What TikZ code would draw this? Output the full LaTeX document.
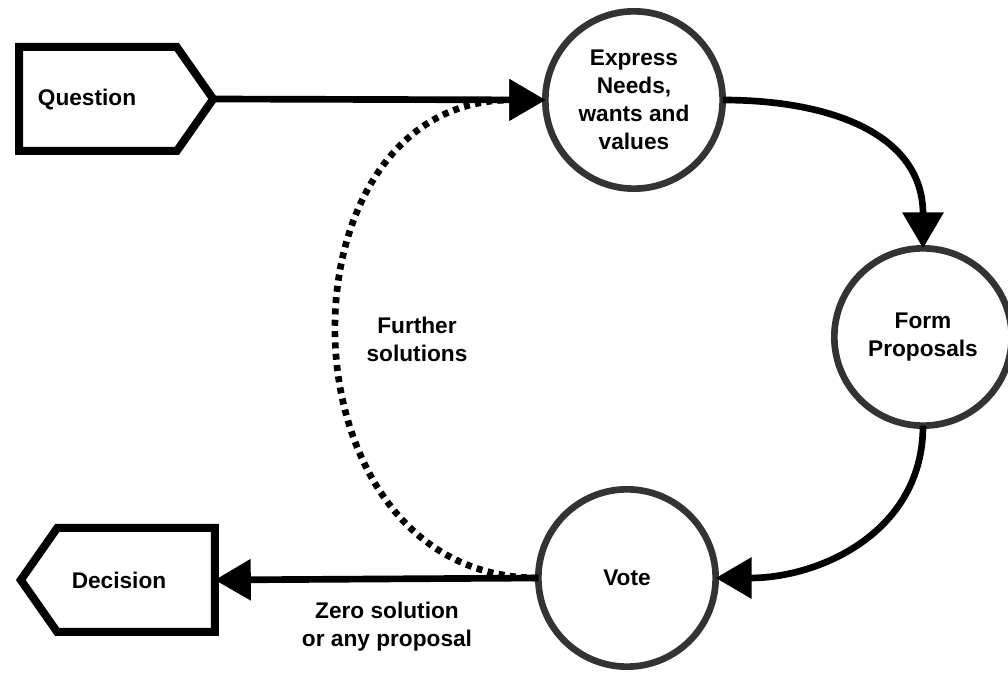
\documentclass[tikz,border=0pt]{standalone}
\usepackage{fontspec}
\setmainfont{Liberation Sans}
\usetikzlibrary{arrows.meta,shapes.symbols}
\definecolor{circgray}{HTML}{333333}
\begin{document}
\begin{tikzpicture}[x=0.75pt,y=-0.75pt,
  every node/.style={font=\fontsize{17}{21}\selectfont\bfseries, align=center},
  stepcirc/.style={circle, draw=circgray, line width=5pt, minimum size=133pt, inner sep=0pt, outer sep=0pt},
  endbox/.style={signal, draw=black, line width=6pt, minimum width=145.5pt, minimum height=78pt,
                 signal pointer angle=110, inner sep=0pt, outer sep=0pt},
  conn/.style={line width=5pt, -{Triangle[width=30pt,length=27pt]}},
  dotconn/.style={line width=5pt, dash pattern=on 4.5pt off 4pt, -{Triangle[width=30pt,length=27pt]}},
  lbl/.style={inner sep=0pt}
]
\useasboundingbox (0,0) rectangle (1008,673);
\node[endbox, signal to=east] (q) at (98,99) {};
\node[lbl] (qt) at (87,100) {Question};
\node[endbox, signal to=west] (d) at (136,580) {};
\node[lbl] (dt) at (119,580) {Decision};
\node[stepcirc] (e) at (634,100) {Express\\Needs,\\wants and\\values};
\node[stepcirc] (f) at (923,337) {Form\\Proposals};
\node[stepcirc] (v) at (627,578) {Vote};
\draw[conn] (q.east) -- (e.west);
\draw[conn] (e.east) to[out=0,in=90,looseness=1.15] (f.north);
\draw[conn] (f.south) to[out=-90,in=0,looseness=1.05] (v.east);
\draw[conn] (v.west) -- (d.east);
\draw[dotconn] (v.west) .. controls +(-265,0) and +(-275,0) .. (e.west);
\node[lbl] (fs) at (417,339) {Further\\solutions};
\node[lbl] (zs) at (387,627) {Zero solution\\or any proposal};
\end{tikzpicture}
\end{document}
